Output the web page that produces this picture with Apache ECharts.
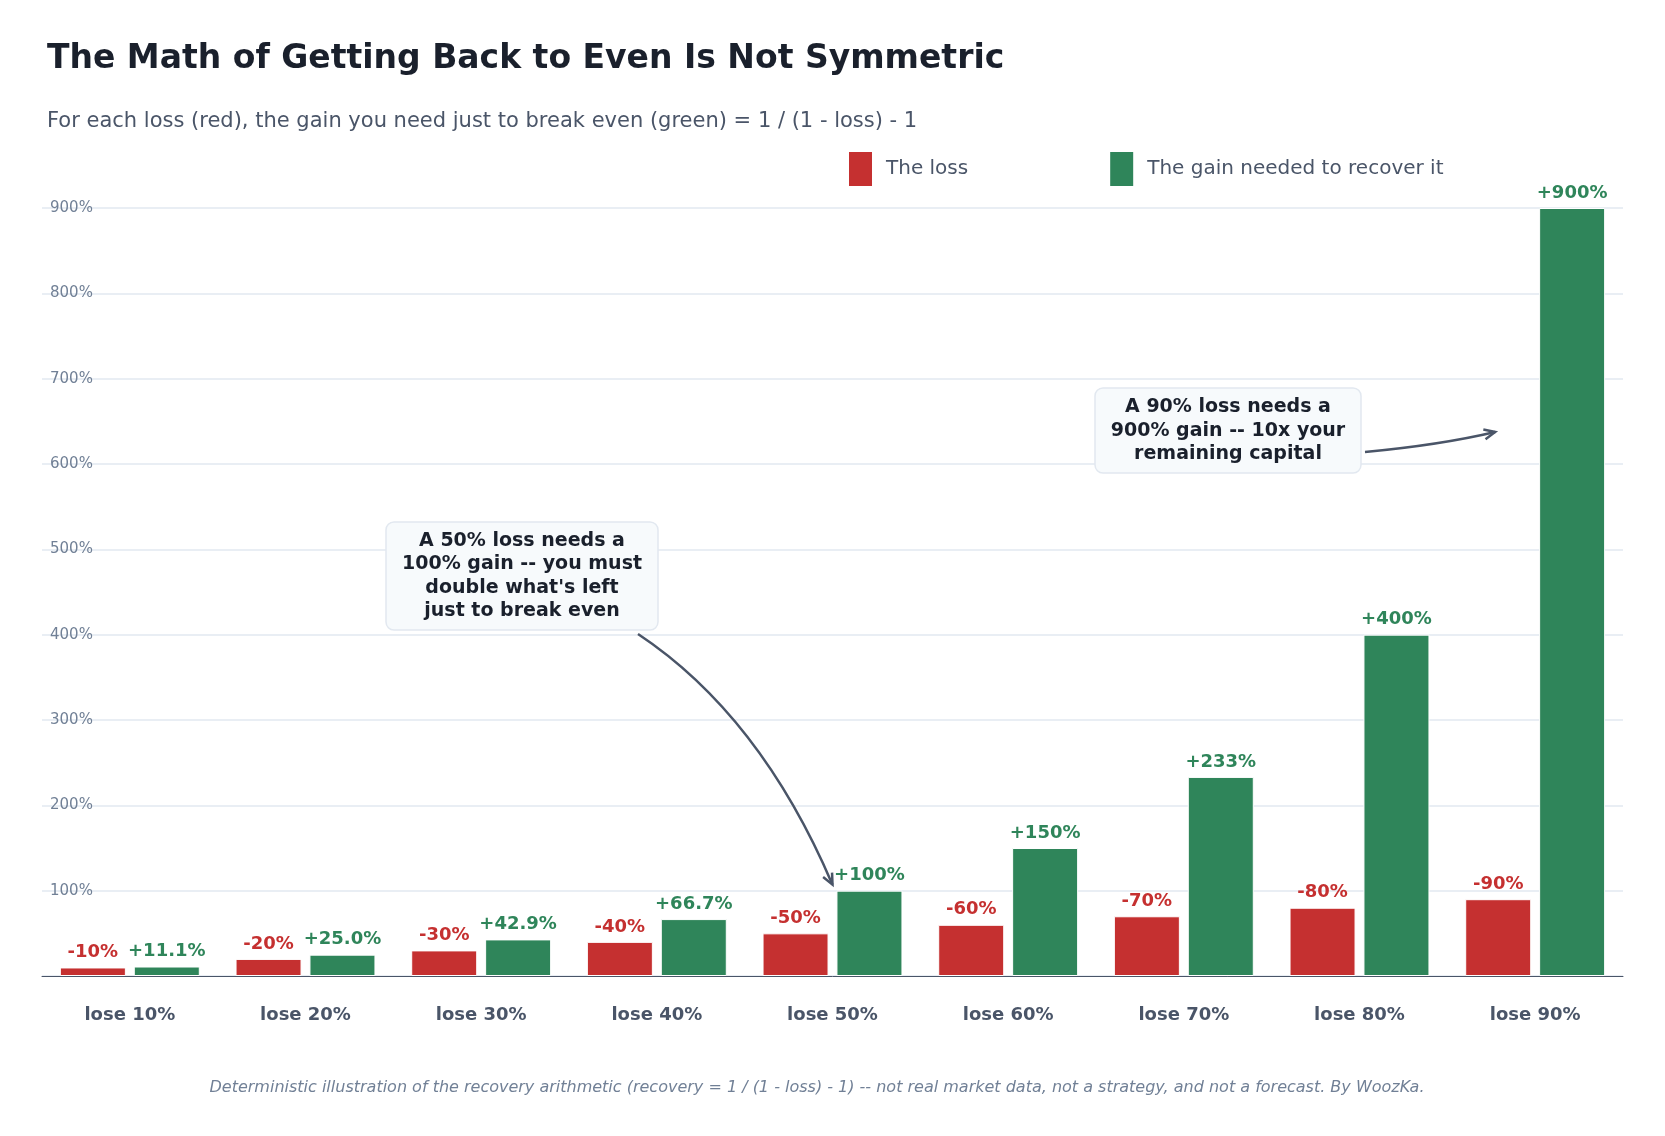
<!DOCTYPE html>
<html><head><meta charset="utf-8">
<script src="https://cdn.jsdelivr.net/npm/echarts@6/dist/echarts.min.js"></script>
<style>html,body{margin:0;padding:0;background:#fff}#c{width:1665px;height:1136px}</style>
</head><body><div id="c"></div>
<script>
const categories = ['lose 10%','lose 20%','lose 30%','lose 40%','lose 50%','lose 60%','lose 70%','lose 80%','lose 90%'];
const lossValues = [10,20,30,40,50,60,70,80,90];
const gainValues = [11.1,25.0,42.9,66.7,100,150,233.3,400,900];
const lossLabels = ['-10%','-20%','-30%','-40%','-50%','-60%','-70%','-80%','-90%'];
const gainLabels = ['+11.1%','+25.0%','+42.9%','+66.7%','+100%','+150%','+233%','+400%','+900%'];
const yTicks = [100,200,300,400,500,600,700,800,900];

const RED='#c53030', GREEN='#2f855a', FONT='DejaVu Sans';
const chart = echarts.init(document.getElementById('c'));
const opt = {
  animation:false,
  textStyle:{fontFamily:FONT},
  title:[
    {text:'The Math of Getting Back to Even Is Not Symmetric',left:42,top:38,textStyle:{fontSize:33,fontWeight:'bold',color:'#1a202c',fontFamily:FONT}},
    {text:'For each loss (red), the gain you need just to break even (green) = 1 / (1 - loss) - 1',left:42,top:106,textStyle:{fontSize:21,fontWeight:'normal',color:'#4a5568',fontFamily:FONT}},
    {text:'Deterministic illustration of the recovery arithmetic (recovery = 1 / (1 - loss) - 1) -- not real market data, not a strategy, and not a forecast. By WoozKa.',left:812,textAlign:'center',top:1075,textStyle:{fontSize:16,fontStyle:'italic',fontWeight:'normal',color:'#718096',fontFamily:FONT}}
  ],
  legend:{left:842,top:145,itemWidth:25,itemHeight:36,itemGap:140,icon:'rect',
    textStyle:{fontSize:20,color:'#4a5568',padding:[0,0,0,8]},
    data:['The loss','The gain needed to recover it']},
  grid:{left:42,right:42,top:208,bottom:160},
  xAxis:{type:'category',data:categories,
    axisLine:{lineStyle:{color:'#4a5568',width:1}},axisTick:{show:false},
    axisLabel:{fontSize:18,fontWeight:'bold',color:'#4a5568',margin:30}},
  yAxis:{type:'value',min:0,max:900,interval:100,
    splitLine:{lineStyle:{color:'#e2e8f0',width:1.5}},
    axisLabel:{inside:true,fontSize:15,color:'#718096',
      formatter:v=>yTicks.includes(v)?v+'%':''}},
  series:[
    {name:'The loss',type:'bar',data:lossValues,barWidth:66,barGap:'12%',
     itemStyle:{color:RED,borderColor:'#fff',borderWidth:1},
     label:{show:true,position:'top',distance:6,fontSize:18,fontWeight:'bold',color:RED,formatter:p=>lossLabels[p.dataIndex]}},
    {name:'The gain needed to recover it',type:'bar',data:gainValues,barWidth:66,
     itemStyle:{color:GREEN,borderColor:'#fff',borderWidth:1},
     label:{show:true,position:'top',distance:6,fontSize:18,fontWeight:'bold',color:GREEN,formatter:p=>gainLabels[p.dataIndex]}}
  ]
};
chart.setOption(opt);
const p50 = chart.convertToPixel({seriesIndex:1},[4,gainValues[4]]);
const p90 = chart.convertToPixel({seriesIndex:1},[8,gainValues[8]]);
const t50=[p50[0]+34, p50[1]-6]; // aim near top of bar
const a1s=[638,634], a1e=[p50[0]+0, p50[1]-6];
const a2s=[1365,452], a2e=[p90[0]-40, 432];
function arrowHead(e, from){const dx=e[0]-from[0],dy=e[1]-from[1],L=Math.hypot(dx,dy),ux=dx/L,uy=dy/L,s=11,w=5;
  return [[e[0]-ux*s+uy*w,e[1]-uy*s-ux*w],[e[0],e[1]],[e[0]-ux*s-uy*w,e[1]-uy*s+ux*w]];}
const c1=[760,715], c2=[1440,445];
chart.setOption({graphic:[
  {type:'bezierCurve',shape:{x1:a1s[0],y1:a1s[1],x2:a1e[0],y2:a1e[1],cpx1:c1[0],cpy1:c1[1]},style:{stroke:'#4a5568',lineWidth:2.5,fill:null},z:10},
  {type:'polyline',shape:{points:arrowHead(a1e,[a1e[0]-20,a1e[1]-40])},style:{stroke:'#4a5568',lineWidth:2.5,fill:null},z:10},
  {type:'rect',shape:{x:386,y:522,width:272,height:108,r:8},style:{fill:'#f7fafc',stroke:'#e2e8f0',lineWidth:1.5},z:11},
  {type:'text',x:522,y:576,style:{text:"A 50% loss needs a\n100% gain -- you must\ndouble what's left\njust to break even",align:'center',verticalAlign:'middle',font:'bold 19px "DejaVu Sans"',fill:'#1a202c',lineHeight:23.5},z:12},
  {type:'bezierCurve',shape:{x1:a2s[0],y1:a2s[1],x2:a2e[0],y2:a2e[1],cpx1:c2[0],cpy1:c2[1]},style:{stroke:'#4a5568',lineWidth:2.5,fill:null},z:10},
  {type:'polyline',shape:{points:arrowHead(a2e,[a2e[0]-40,a2e[1]+9])},style:{stroke:'#4a5568',lineWidth:2.5,fill:null},z:10},
  {type:'rect',shape:{x:1095,y:388,width:266,height:85,r:8},style:{fill:'#f7fafc',stroke:'#e2e8f0',lineWidth:1.5},z:11},
  {type:'text',x:1228,y:431,style:{text:"A 90% loss needs a\n900% gain -- 10x your\nremaining capital",align:'center',verticalAlign:'middle',font:'bold 19px "DejaVu Sans"',fill:'#1a202c',lineHeight:23.5},z:12}
]});
</script></body></html>
